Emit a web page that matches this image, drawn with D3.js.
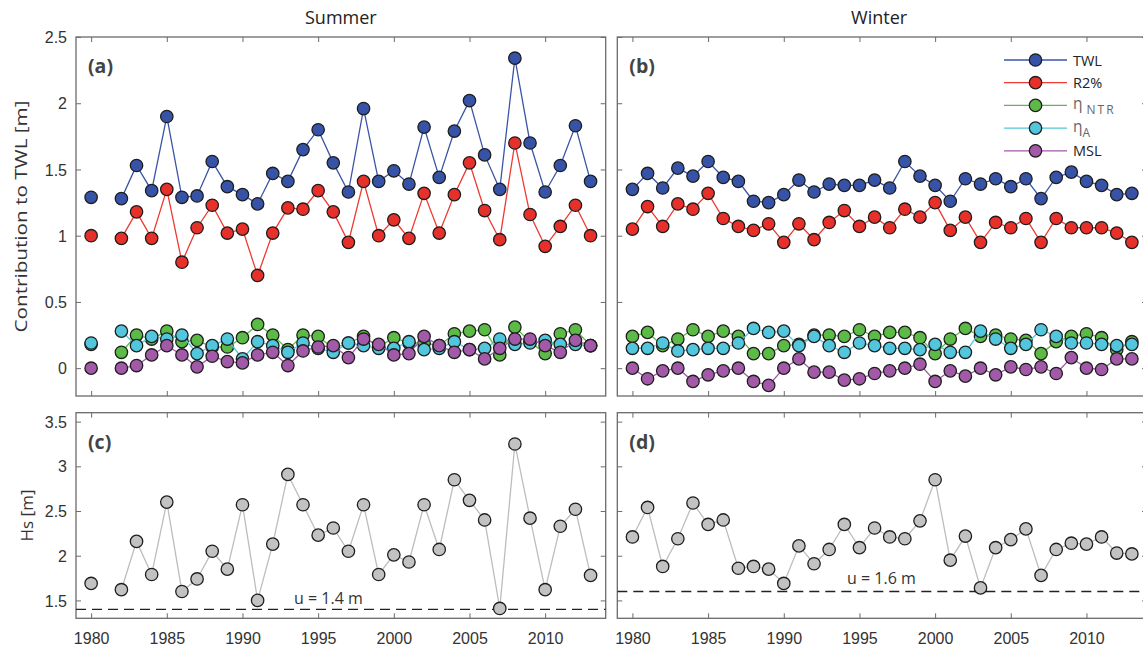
<!DOCTYPE html>
<html>
<head>
<meta charset="utf-8">
<script src="https://cdn.jsdelivr.net/npm/d3@7"></script>
<style>
  body { margin: 0; background: #fff; }
  svg { font-family: "Open Sans", "Noto Sans", sans-serif; }
  .tick-label { fill: #333; font-size: 16px; }
</style>
</head>
<body>
<svg id="chart" width="1143" height="654"></svg>
<script>
// ---------- data ----------
var years = [1980, 1981, 1982, 1983, 1984, 1985, 1986, 1987, 1988, 1989,
             1990, 1991, 1992, 1993, 1994, 1995, 1996, 1997, 1998, 1999,
             2000, 2001, 2002, 2003, 2004, 2005, 2006, 2007, 2008, 2009,
             2010, 2011, 2012, 2013];

// summer has no 1981 value
var twlSummer = [1.29, null, 1.28, 1.53, 1.34, 1.90, 1.29, 1.30, 1.56, 1.37, 1.31, 1.24, 1.47, 1.41, 1.65, 1.80, 1.55, 1.33, 1.96, 1.41, 1.49, 1.39, 1.82, 1.44, 1.79, 2.02, 1.61, 1.35, 2.34, 1.70, 1.33, 1.53, 1.83, 1.41];
var r2Summer  = [1.00, null, 0.98, 1.18, 0.98, 1.35, 0.80, 1.06, 1.23, 1.02, 1.05, 0.70, 1.02, 1.21, 1.20, 1.34, 1.18, 0.95, 1.41, 1.00, 1.12, 0.98, 1.32, 1.02, 1.31, 1.55, 1.19, 0.97, 1.70, 1.16, 0.92, 1.07, 1.23, 1.00];
var ntrSummer = [0.18, null, 0.12, 0.25, 0.22, 0.28, 0.20, 0.21, 0.16, 0.16, 0.23, 0.33, 0.25, 0.14, 0.25, 0.24, 0.15, 0.19, 0.24, 0.16, 0.23, 0.19, 0.19, 0.17, 0.26, 0.28, 0.29, 0.10, 0.31, 0.20, 0.11, 0.26, 0.29, 0.17];
var aSummer   = [0.19, null, 0.28, 0.17, 0.24, 0.22, 0.25, 0.11, 0.17, 0.22, 0.07, 0.20, 0.17, 0.12, 0.19, 0.15, 0.12, 0.19, 0.17, 0.15, 0.15, 0.20, 0.14, 0.15, 0.20, 0.14, 0.15, 0.22, 0.18, 0.19, 0.21, 0.18, 0.18, 0.17];
var mslSummer = [0.00, null, 0.00, 0.02, 0.10, 0.17, 0.10, 0.01, 0.09, 0.05, 0.04, 0.10, 0.12, 0.02, 0.13, 0.16, 0.17, 0.08, 0.22, 0.18, 0.10, 0.11, 0.24, 0.17, 0.12, 0.14, 0.07, 0.15, 0.22, 0.22, 0.17, 0.12, 0.21, 0.17];

var twlWinter = [1.35, 1.47, 1.36, 1.51, 1.45, 1.56, 1.44, 1.41, 1.26, 1.25, 1.31, 1.42, 1.33, 1.39, 1.38, 1.38, 1.42, 1.36, 1.56, 1.45, 1.38, 1.26, 1.43, 1.39, 1.43, 1.37, 1.43, 1.28, 1.44, 1.48, 1.41, 1.38, 1.31, 1.32];
var r2Winter  = [1.05, 1.22, 1.07, 1.24, 1.20, 1.32, 1.13, 1.07, 1.04, 1.09, 0.95, 1.09, 0.97, 1.10, 1.19, 1.07, 1.14, 1.06, 1.20, 1.14, 1.25, 1.04, 1.14, 0.95, 1.10, 1.06, 1.13, 0.95, 1.13, 1.06, 1.06, 1.06, 1.02, 0.95];
var ntrWinter = [0.24, 0.27, 0.17, 0.22, 0.29, 0.24, 0.28, 0.24, 0.11, 0.11, 0.17, 0.18, 0.25, 0.25, 0.24, 0.29, 0.24, 0.27, 0.27, 0.23, 0.11, 0.22, 0.30, 0.24, 0.25, 0.22, 0.21, 0.11, 0.20, 0.24, 0.26, 0.23, 0.14, 0.20];
var aWinter   = [0.15, 0.15, 0.19, 0.13, 0.14, 0.15, 0.15, 0.19, 0.30, 0.27, 0.28, 0.17, 0.24, 0.17, 0.12, 0.19, 0.17, 0.15, 0.15, 0.14, 0.18, 0.12, 0.12, 0.28, 0.22, 0.15, 0.18, 0.29, 0.24, 0.19, 0.19, 0.18, 0.17, 0.18];
var mslWinter = [0.00, -0.08, -0.02, 0.00, -0.10, -0.05, -0.02, 0.00, -0.10, -0.13, 0.00, 0.07, -0.03, -0.03, -0.09, -0.08, -0.04, -0.02, 0.00, 0.03, -0.10, -0.02, -0.06, 0.00, -0.05, 0.01, -0.01, 0.01, -0.04, 0.08, 0.00, -0.01, 0.07, 0.07];

var hsSummer = [1.69, null, 1.62, 2.16, 1.79, 2.60, 1.60, 1.74, 2.05, 1.85, 2.57, 1.50, 2.13, 2.91, 2.57, 2.23, 2.31, 2.05, 2.57, 1.79, 2.01, 1.93, 2.57, 2.07, 2.85, 2.62, 2.40, 1.41, 3.25, 2.42, 1.62, 2.33, 2.52, 1.78];
var hsWinter = [2.21, 2.54, 1.88, 2.19, 2.59, 2.35, 2.40, 1.86, 1.88, 1.85, 1.69, 2.11, 1.91, 2.07, 2.35, 2.09, 2.31, 2.21, 2.19, 2.39, 2.85, 1.95, 2.22, 1.64, 2.09, 2.18, 2.30, 1.78, 2.07, 2.14, 2.13, 2.21, 2.03, 2.02];

var uSummer = 1.4, uWinter = 1.6;

var xTicks = [1980, 1985, 1990, 1995, 2000, 2005, 2010];
var twlTicks = [0, 0.5, 1, 1.5, 2, 2.5];
var hsTicks = [1.5, 2, 2.5, 3, 3.5];

var seriesNames = ['TWL', 'R2%', 'ntr', 'a', 'MSL'];
var seriesFill  = ['#3753a8', '#e8302b', '#5cba47', '#52c6dc', '#a25aa8'];
var seriesLine  = ['#3a55a8', '#ee3a32', '#5cba47', '#52c6dc', '#a25aa8'];

// ---------- layout ----------
var svg = d3.select('#chart');
var colL = [76, 617.3], colW = 529.7;
var topY = [37, 396], botY = [412.7, 618.3];
var axisColor = '#6b6b6b', markerStroke = '#1e1e1e';

function makePanel(px, py, yDomain, yTicks, showY, showX) {
  var x = d3.scaleLinear().domain([1979, 2014]).range([px, px + colW]);
  var y = d3.scaleLinear().domain(yDomain).range([py[1], py[0]]);
  var g = svg.append('g');
  var clipId = 'clip' + Math.round(px) + Math.round(py[0]);
  svg.append('clipPath').attr('id', clipId)
    .append('rect')
      .attr('x', px).attr('y', py[0])
      .attr('width', colW).attr('height', py[1] - py[0]);

  // ticks pointing inward on all four sides (matlab box on)
  var tickLen = 5;
  function styleAxis(sel) {
    sel.select('.domain').remove();
    sel.selectAll('.tick line').attr('stroke', axisColor).attr('stroke-width', 1);
  }
  g.append('g').attr('transform', 'translate(0,' + py[1] + ')')
    .call(d3.axisBottom(x).tickValues(xTicks).tickSize(-tickLen).tickFormat(showX ? d3.format('d') : ''))
    .call(styleAxis)
    .call(s => s.selectAll('text').attr('class', 'tick-label').attr('dy', '1.4em').attr('fill', '#333'));
  g.append('g').attr('transform', 'translate(0,' + py[0] + ')')
    .call(d3.axisTop(x).tickValues(xTicks).tickSize(-tickLen).tickFormat(''))
    .call(styleAxis);
  g.append('g').attr('transform', 'translate(' + px + ',0)')
    .call(d3.axisLeft(y).tickValues(yTicks).tickSize(-tickLen).tickFormat(showY ? d3.format('~g') : ''))
    .call(styleAxis)
    .call(s => s.selectAll('text').attr('class', 'tick-label').attr('x', -9).attr('dy', '0.35em').attr('fill', '#333'));
  g.append('g').attr('transform', 'translate(' + (px + colW) + ',0)')
    .call(d3.axisRight(y).tickValues(yTicks).tickSize(-tickLen).tickFormat(''))
    .call(styleAxis);

  g.append('rect')
    .attr('x', px).attr('y', py[0])
    .attr('width', colW).attr('height', py[1] - py[0])
    .attr('fill', 'none').attr('stroke', axisColor).attr('stroke-width', 1.3);

  var plot = svg.append('g').attr('clip-path', 'url(#' + clipId + ')');
  return {x: x, y: y, plot: plot};
}

function drawSeries(p, values, fill, lineColor) {
  var pts = years.map((yr, i) => ({yr: yr, v: values[i]}));
  var line = d3.line()
    .defined(d => d.v !== null)
    .x(d => p.x(d.yr))
    .y(d => p.y(d.v));
  p.plot.append('path')
    .datum(pts)
    .attr('d', line)
    .attr('fill', 'none')
    .attr('stroke', lineColor)
    .attr('stroke-width', 1.3);
  p.plot.append('g')
    .selectAll('circle')
    .data(pts.filter(d => d.v !== null))
    .enter()
      .append('circle')
        .attr('cx', d => p.x(d.yr))
        .attr('cy', d => p.y(d.v))
        .attr('r', 6.2)
        .attr('fill', fill)
        .attr('stroke', markerStroke)
        .attr('stroke-width', 1.3);
}

function drawThreshold(p, u, labelX, labelDy) {
  p.plot.append('line')
    .attr('x1', p.x.range()[0]).attr('x2', p.x.range()[1])
    .attr('y1', p.y(u)).attr('y2', p.y(u))
    .attr('stroke', '#222').attr('stroke-width', 1.3)
    .attr('stroke-dasharray', '10,6');
  svg.append('text')
    .attr('x', labelX).attr('y', p.y(u) + labelDy)
    .attr('fill', '#333').style('font-size', '16px')
    .text('u = ' + u.toFixed(1) + ' m');
}

function panelLabel(p, txt) {
  svg.append('text')
    .attr('x', p.x.range()[0] + 12).attr('y', p.y.range()[1] + 36)
    .attr('fill', '#444').style('font-size', '19.5px').style('font-weight', 'bold')
    .text(txt);
}

// ---------- panels ----------
var pa = makePanel(colL[0], topY, [-0.21, 2.5], twlTicks, true, false);
var pb = makePanel(colL[1], topY, [-0.21, 2.5], twlTicks, false, false);
var pc = makePanel(colL[0], botY, [1.3, 3.6], hsTicks, true, true);
var pd = makePanel(colL[1], botY, [1.3, 3.6], hsTicks, false, true);

var summer = [twlSummer, r2Summer, ntrSummer, aSummer, mslSummer];
var winter = [twlWinter, r2Winter, ntrWinter, aWinter, mslWinter];
summer.forEach((vals, i) => drawSeries(pa, vals, seriesFill[i], seriesLine[i]));
winter.forEach((vals, i) => drawSeries(pb, vals, seriesFill[i], seriesLine[i]));

drawThreshold(pc, uSummer, 294, -5);
drawThreshold(pd, uWinter, 847, -7);
drawSeries(pc, hsSummer, '#c2c2c2', '#bdbdbd');
drawSeries(pd, hsWinter, '#c2c2c2', '#bdbdbd');

panelLabel(pa, '(a)');
panelLabel(pb, '(b)');
panelLabel(pc, '(c)');
panelLabel(pd, '(d)');

// ---------- titles ----------
svg.append('text').attr('x', colL[0] + colW / 2).attr('y', 24)
  .attr('text-anchor', 'middle').attr('fill', '#222').style('font-size', '18px').text('Summer');
svg.append('text').attr('x', colL[1] + colW / 2 - 3).attr('y', 24)
  .attr('text-anchor', 'middle').attr('fill', '#222').style('font-size', '18px').text('Winter');

svg.append('text')
  .attr('transform', 'translate(27,' + (topY[0] + topY[1]) / 2 + ') rotate(-90)')
  .attr('text-anchor', 'middle').attr('fill', '#333').style('font-size', '17px')
  .attr('textLength', 232).attr('lengthAdjust', 'spacingAndGlyphs')
  .text('Contribution to TWL [m]');
svg.append('text')
  .attr('transform', 'translate(33,' + (botY[0] + botY[1]) / 2 + ') rotate(-90)')
  .attr('text-anchor', 'middle').attr('fill', '#333').style('font-size', '17px')
  .text('Hs [m]');

// ---------- legend ----------
var legX = 1004, legY = 60, legStep = 22.7;
var legend = svg.append('g');
seriesNames.forEach((name, i) => {
  var yy = legY + i * legStep;
  legend.append('line')
    .attr('x1', legX).attr('x2', legX + 63).attr('y1', yy).attr('y2', yy)
    .attr('stroke', seriesLine[i]).attr('stroke-width', 1.3);
  legend.append('circle')
    .attr('cx', legX + 31.5).attr('cy', yy).attr('r', 6.2)
    .attr('fill', seriesFill[i]).attr('stroke', markerStroke).attr('stroke-width', 1.3);
  var t = legend.append('text')
    .attr('x', legX + 69).attr('y', yy + 5.5)
    .style('font-size', '14.5px');
  if (name === 'ntr' || name === 'a') {
    t.attr('fill', '#666');
    t.attr('y', yy + 4);
    t.append('tspan').style('font-size', '15.5px').text('η');
    t.append('tspan')
      .attr('dy', 5)
      .attr('dx', name === 'ntr' ? 4 : 0)
      .style('font-size', '12px')
      .style('letter-spacing', name === 'ntr' ? '2px' : '0px')
      .text(name === 'ntr' ? 'NTR' : 'A');
  } else {
    t.attr('fill', '#222').text(name);
  }
});
</script>
</body>
</html>
